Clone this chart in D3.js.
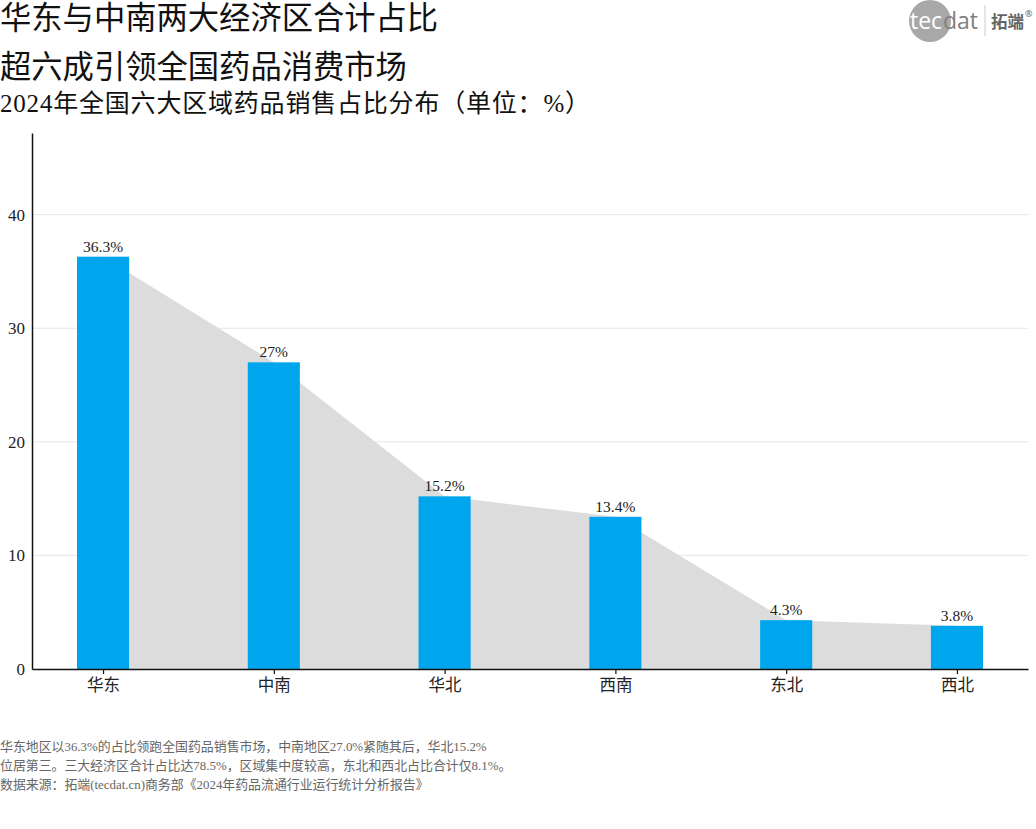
<!DOCTYPE html>
<html>
<head>
<meta charset="utf-8">
<script src="https://cdn.jsdelivr.net/npm/d3@7"></script>
<style>
  body { margin: 0; background: #fff; }
  svg text { font-family: "Liberation Serif", "Noto Sans CJK SC", serif; }
</style>
</head>
<body>
<div id="chart"></div>
<script>
// 2024年全国六大区域药品销售占比（%）
const regions = ["华东", "中南", "华北", "西南", "东北", "西北"];
const shares = [36.3, 27, 15.2, 13.4, 4.3, 3.8];
const yTicks = [0, 10, 20, 30, 40];

const titleLines = ["华东与中南两大经济区合计占比", "超六成引领全国药品消费市场"];
const subtitle = "2024年全国六大区域药品销售占比分布（单位：%）";
const notes = [
  "华东地区以36.3%的占比领跑全国药品销售市场，中南地区27.0%紧随其后，华北15.2%",
  "位居第三。三大经济区合计占比达78.5%，区域集中度较高，东北和西北占比合计仅8.1%。",
  "数据来源：拓端(tecdat.cn)商务部《2024年药品流通行业运行统计分析报告》"
];

let width = 1036,
    height = 829,
    margin = ({ top: 133, right: 8, bottom: 160, left: 32 });

const data = regions.map((r, i) => ({ region: r, value: shares[i] }));

const svg = d3.select("#chart")
  .append("svg")
  .attr("width", width)
  .attr("height", height);

// titles
svg.selectAll(".title")
  .data(titleLines)
  .join("text")
  .attr("class", "title")
  .attr("x", 0)
  .attr("y", (d, i) => 29 + i * 49)
  .attr("font-size", 31.3)
  .attr("fill", "#111")
  .text(d => d);

svg.append("text")
  .attr("x", 0)
  .attr("y", 112)
  .attr("font-size", 25)
  .attr("letter-spacing", 0.8)
  .attr("fill", "#111")
  .text(subtitle);

let x = d3.scalePoint()
  .domain(regions)
  .range([margin.left, width - margin.right])
  .padding(0.416);

let y = d3.scaleLinear()
  .domain([0, d3.max(shares) * 1.3])
  .range([height - margin.bottom, margin.top]);

const barWidth = x.step() * 0.305;

// grid
svg.append("g")
  .selectAll("line")
  .data(yTicks.filter(d => d > 0))
  .join("line")
  .attr("x1", margin.left)
  .attr("x2", width - margin.right)
  .attr("y1", d => y(d))
  .attr("y2", d => y(d))
  .attr("stroke", "#e6e6e6")
  .attr("stroke-width", 1);

// grey trend area through bar centres
let area = d3.area()
  .x(d => x(d.region))
  .y0(y(0))
  .y1(d => y(d.value));

svg.append("path")
  .datum(data)
  .attr("fill", "#dcdcdc")
  .attr("d", area);

// bars
svg.append("g")
  .selectAll("rect")
  .data(data)
  .join("rect")
  .attr("x", d => x(d.region) - barWidth / 2)
  .attr("y", d => y(d.value))
  .attr("width", barWidth)
  .attr("height", d => y(0) - y(d.value))
  .attr("fill", "#00a6ed");

// value labels
svg.append("g")
  .selectAll("text")
  .data(data)
  .join("text")
  .attr("x", d => x(d.region))
  .attr("y", d => y(d.value) - 5)
  .attr("text-anchor", "middle")
  .attr("font-size", 15.5)
  .attr("fill", "#222")
  .text(d => d.value + "%");

// axes
let xAxis = svg.append("g")
  .attr("transform", `translate(0,${y(0)})`)
  .call(d3.axisBottom(x).tickSize(5).tickPadding(5).tickSizeOuter(0));
xAxis.select(".domain").attr("stroke", "#111").attr("stroke-width", 1.5);
xAxis.selectAll(".tick line").attr("stroke", "#111").attr("stroke-width", 1.2);
xAxis.selectAll(".tick text")
  .attr("font-size", 16.5)
  .attr("fill", "#222")
  .style("font-family", "'Noto Sans CJK SC', sans-serif");

let yAxis = svg.append("g")
  .attr("transform", `translate(${margin.left},0)`)
  .call(d3.axisLeft(y).tickValues(yTicks).tickSize(0).tickPadding(7).tickSizeOuter(0));
yAxis.select(".domain").attr("stroke", "#111").attr("stroke-width", 1.5);
yAxis.selectAll(".tick text").attr("font-size", 17).attr("fill", "#222");

// notes
svg.selectAll(".note")
  .data(notes)
  .join("text")
  .attr("class", "note")
  .attr("x", 0)
  .attr("y", (d, i) => 751 + i * 19)
  .attr("font-size", 12.9)
  .attr("fill", "#666")
  .text(d => d);

// logo
let logo = svg.append("g");
logo.append("circle")
  .attr("cx", 930)
  .attr("cy", 21)
  .attr("r", 21)
  .attr("fill", "#a8a8a8");
logo.append("text")
  .attr("x", 910)
  .attr("y", 29)
  .attr("font-size", 23)
  .style("font-family", "'Open Sans', sans-serif")
  .attr("fill", "#fff")
  .text("tec");
logo.append("text")
  .attr("x", 943)
  .attr("y", 29)
  .attr("font-size", 23)
  .style("font-family", "'Open Sans', sans-serif")
  .attr("fill", "#808080")
  .text("dat");
logo.append("line")
  .attr("x1", 985).attr("x2", 985)
  .attr("y1", 5).attr("y2", 36)
  .attr("stroke", "#ccc");
logo.append("text")
  .attr("x", 991)
  .attr("y", 28)
  .attr("font-size", 16.5)
  .attr("font-weight", "bold")
  .style("font-family", "'Noto Sans CJK SC', sans-serif")
  .attr("fill", "#666")
  .text("拓端");
logo.append("text")
  .attr("x", 1025)
  .attr("y", 17)
  .attr("font-size", 9)
  .style("font-family", "'Noto Sans', sans-serif")
  .attr("fill", "#666")
  .text("®");
</script>
</body>
</html>
